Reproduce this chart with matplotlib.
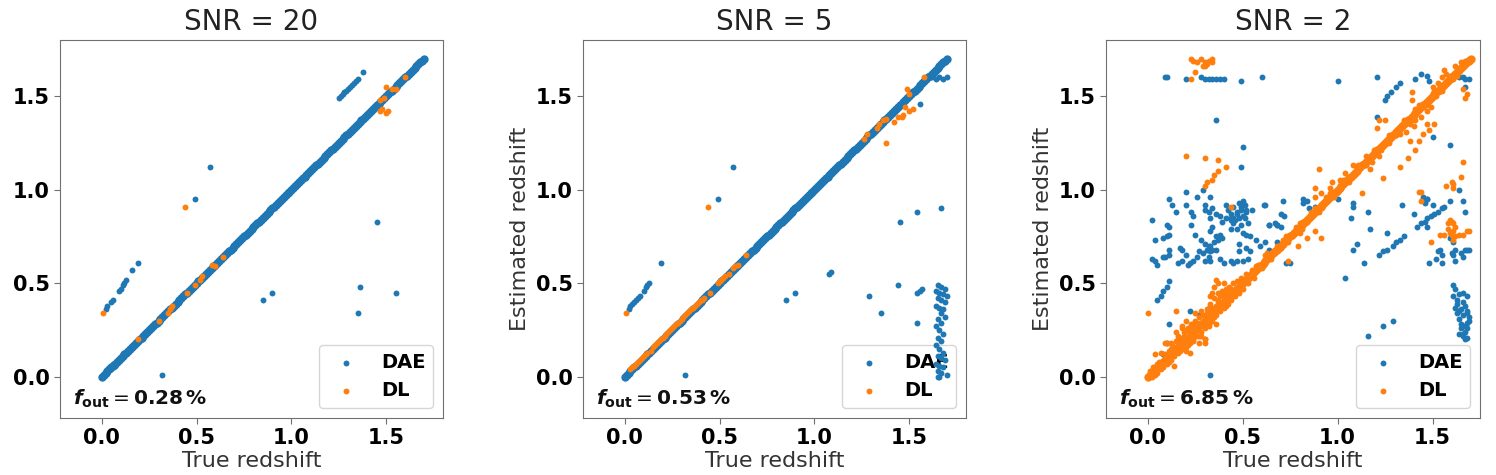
import matplotlib
matplotlib.use("Agg")
import matplotlib.pyplot as plt

# ---------------- data ----------------
snr_values = [20, 5, 2]
f_out_values = ["0.28", "0.53", "6.85"]
tick_values = [0.0, 0.5, 1.0, 1.5]
tick_labels = ["0.0", "0.5", "1.0", "1.5"]

# points lying on the 1:1 relation (true = estimated)
diag_z = [0.00, 0.01, 0.02, 0.03, 0.04, 0.05, 0.06, 0.07, 0.08, 0.09,
          0.10, 0.11, 0.12, 0.13, 0.14, 0.15, 0.16, 0.17, 0.18, 0.19,
          0.20, 0.21, 0.22, 0.23, 0.24, 0.25, 0.26, 0.27, 0.28, 0.29,
          0.30, 0.31, 0.32, 0.33, 0.34, 0.35, 0.36, 0.37, 0.38, 0.39,
          0.40, 0.41, 0.42, 0.43, 0.44, 0.45, 0.46, 0.47, 0.48, 0.49,
          0.50, 0.51, 0.52, 0.53, 0.54, 0.55, 0.56, 0.57, 0.58, 0.59,
          0.60, 0.61, 0.62, 0.63, 0.64, 0.65, 0.66, 0.67, 0.68, 0.69,
          0.70, 0.71, 0.72, 0.73, 0.74, 0.75, 0.76, 0.77, 0.78, 0.79,
          0.80, 0.81, 0.82, 0.83, 0.84, 0.85, 0.86, 0.87, 0.88, 0.89,
          0.90, 0.91, 0.92, 0.93, 0.94, 0.95, 0.96, 0.97, 0.98, 0.99,
          1.00, 1.01, 1.02, 1.03, 1.04, 1.05, 1.06, 1.07, 1.08, 1.09,
          1.10, 1.11, 1.12, 1.13, 1.14, 1.15, 1.16, 1.17, 1.18, 1.19,
          1.20, 1.21, 1.22, 1.23, 1.24, 1.25, 1.26, 1.27, 1.28, 1.29,
          1.30, 1.31, 1.32, 1.33, 1.34, 1.35, 1.36, 1.37, 1.38, 1.39,
          1.40, 1.41, 1.42, 1.43, 1.44, 1.45, 1.46, 1.47, 1.48, 1.49,
          1.50, 1.51, 1.52, 1.53, 1.54, 1.55, 1.56, 1.57, 1.58, 1.59,
          1.60, 1.61, 1.62, 1.63, 1.64, 1.65, 1.66, 1.67, 1.68, 1.69,
          1.70]

# SNR = 20
p1_dae_x = [0.02, 0.03, 0.05, 0.06, 0.09, 0.10, 0.11, 0.12, 0.13, 0.16, 0.19,
            0.57, 0.49, 1.45, 1.36, 1.55, 1.35, 0.85, 0.90, 0.32,
            1.25, 1.26, 1.27, 1.28, 1.29, 1.30, 1.31, 1.32, 1.33, 1.34, 1.35, 1.38,
            0.05, 0.06, 0.07, 0.08]
p1_dae_y = [0.36, 0.38, 0.40, 0.41, 0.46, 0.47, 0.49, 0.50, 0.52, 0.57, 0.61,
            1.12, 0.95, 0.83, 0.48, 0.45, 0.34, 0.41, 0.45, 0.01,
            1.49, 1.50, 1.51, 1.52, 1.53, 1.54, 1.55, 1.56, 1.57, 1.58, 1.59, 1.63,
            0.04, 0.07, 0.06, 0.08]
p1_dl_x = [0.005, 0.44, 0.19, 0.30, 0.35, 0.36, 0.37, 0.45, 0.49, 0.52, 0.53,
           0.58, 0.60, 0.64,
           1.47, 1.49, 1.50, 1.53, 1.55, 1.60, 1.47, 1.48, 1.50, 1.51]
p1_dl_y = [0.34, 0.91, 0.20, 0.30, 0.34, 0.36, 0.38, 0.45, 0.49, 0.52, 0.54,
           0.60, 0.59, 0.64,
           1.48, 1.49, 1.55, 1.54, 1.54, 1.60, 1.42, 1.43, 1.41, 1.42]

# SNR = 5
p2_dae_x = [0.02, 0.03, 0.04, 0.05, 0.06, 0.07, 0.08, 0.10, 0.11, 0.12, 0.13,
            0.19, 0.57, 0.49, 0.32, 0.85, 0.90, 1.08, 1.09, 1.29, 1.35, 1.44,
            1.45, 1.54, 1.67, 1.54, 1.54, 1.56, 1.57, 1.56,
            1.62, 1.64, 1.66, 1.68, 1.70,
            1.65, 1.67, 1.69, 1.64, 1.66, 1.68, 1.70, 1.65, 1.67, 1.69, 1.64,
            1.66, 1.68, 1.67, 1.69, 1.65, 1.67, 1.64, 1.66, 1.68, 1.65, 1.67,
            1.64, 1.66, 1.68, 1.65, 1.67, 1.69, 1.64, 1.66, 1.68, 1.65, 1.67,
            1.65, 1.70, 1.66]
p2_dae_y = [0.36, 0.38, 0.39, 0.40, 0.41, 0.42, 0.43, 0.46, 0.48, 0.49, 0.50,
            0.61, 1.12, 0.95, 0.01, 0.41, 0.45, 0.55, 0.56, 0.43, 0.34, 0.49,
            0.83, 0.88, 0.90, 0.29, 0.45, 0.46, 0.47, 1.46,
            1.60, 1.59, 1.60, 1.59, 1.60,
            0.49, 0.48, 0.47, 0.46, 0.45, 0.44, 0.43, 0.42, 0.41, 0.40, 0.38,
            0.37, 0.36, 0.34, 0.32, 0.31, 0.29, 0.27, 0.25, 0.23, 0.21, 0.19,
            0.17, 0.15, 0.13, 0.11, 0.10, 0.09, 0.07, 0.06, 0.05, 0.03, 0.02,
            0.00, 0.01, 0.00]
p2_dl_x = [0.005, 0.44,
           0.03, 0.04, 0.05, 0.06, 0.07, 0.08, 0.09, 0.10, 0.11, 0.12, 0.14,
           0.15, 0.16, 0.17, 0.18, 0.19, 0.20, 0.21, 0.22, 0.23, 0.24, 0.25,
           0.26, 0.27, 0.28, 0.29, 0.30, 0.31, 0.32, 0.33, 0.34, 0.35, 0.36,
           0.37, 0.38, 0.39, 0.40, 0.41, 0.42, 0.45, 0.49, 0.50, 0.51, 0.52,
           0.53, 0.55, 0.57, 0.58, 0.60, 0.64,
           1.26, 1.28, 1.33, 1.34, 1.36, 1.38, 1.38, 1.42, 1.44, 1.46, 1.47,
           1.48, 1.50, 1.52, 1.49, 1.50, 1.58]
p2_dl_y = [0.34, 0.91,
           0.04, 0.05, 0.06, 0.07, 0.08, 0.09, 0.10, 0.11, 0.12, 0.13, 0.14,
           0.16, 0.17, 0.18, 0.19, 0.20, 0.21, 0.22, 0.23, 0.24, 0.25, 0.26,
           0.27, 0.28, 0.29, 0.30, 0.31, 0.32, 0.33, 0.34, 0.35, 0.36, 0.37,
           0.38, 0.39, 0.40, 0.41, 0.41, 0.42, 0.45, 0.50, 0.51, 0.52, 0.53,
           0.54, 0.55, 0.58, 0.59, 0.60, 0.65,
           1.27, 1.30, 1.33, 1.35, 1.37, 1.38, 1.25, 1.36, 1.39, 1.39, 1.40,
           1.44, 1.42, 1.43, 1.54, 1.51, 1.60]

# SNR = 2
p3_dae_x = [0.09, 0.10, 0.20, 0.28, 0.30, 0.32, 0.34, 0.36, 0.38, 0.40, 0.49,
            0.60, 1.00, 1.21, 1.44, 1.47, 1.48, 1.41, 1.33, 1.31, 1.28, 1.26,
            1.25, 1.64, 1.66, 1.67, 1.69, 1.67,
            0.36, 0.50, 0.49, 1.21, 1.50, 1.59,
            0.29, 0.20, 0.11, 0.13, 0.20, 0.15, 0.02, 0.10, 0.23, 0.24, 0.26,
            0.33, 0.41, 0.30, 0.30, 0.32, 0.34, 0.36, 0.33, 0.38, 0.41, 0.44,
            0.45, 0.47, 0.49, 0.50, 0.51, 0.52, 0.50, 0.48, 0.44, 0.39, 0.62,
            0.71, 0.70, 0.72, 0.64, 0.68, 0.70, 0.23, 0.34,
            0.04, 0.11, 0.11, 0.10, 0.25, 0.28, 0.33,
            0.30, 0.32, 0.33, 0.35, 0.37, 0.36, 0.34, 0.33, 0.31, 0.29, 0.36,
            0.38, 0.39, 0.32, 0.33, 0.30, 0.27, 0.26, 0.24, 0.22, 0.20, 0.18,
            0.17, 0.18, 0.16, 0.21,
            0.04, 0.08, 0.11, 0.02, 0.11, 0.05,
            0.42, 0.44, 0.46, 0.47, 0.45, 0.48, 0.50, 0.49, 0.52, 0.51, 0.53,
            0.49, 0.47, 0.50, 0.52, 0.54, 0.44, 0.45,
            0.48, 0.48, 0.47, 0.50, 0.53, 0.45, 0.54, 0.52,
            0.57, 0.59, 0.61, 0.62, 0.64, 0.67, 0.68, 0.64, 0.68, 0.55,
            0.75, 0.44, 0.40, 0.38,
            0.82, 0.84, 0.82, 0.85, 0.88, 1.00, 1.08, 1.08, 1.07, 1.16, 1.34,
            1.40, 1.45, 1.47, 1.46,
            0.08, 0.09, 0.11, 0.10, 0.08, 0.07, 0.05, 0.22, 0.27, 0.11, 0.10,
            0.08, 0.33, 0.73,
            1.17, 1.26, 1.10, 1.08, 1.14, 1.04,
            1.22, 1.24, 1.26, 1.29, 1.31, 1.33, 1.35,
            1.42, 1.44, 1.46, 1.47, 1.49, 1.51, 1.53, 1.55, 1.56, 1.50, 1.47,
            1.45,
            1.59, 1.64, 1.66, 1.67, 1.59, 1.61,
            1.54, 1.52, 1.55, 1.48, 1.61, 1.62, 1.65, 1.67, 1.68, 1.66, 1.53,
            1.55, 1.60, 1.62, 1.69, 1.47,
            1.61, 1.62, 1.61, 1.64, 1.66, 1.68, 1.63, 1.66, 1.62, 1.65, 1.68,
            1.68, 1.63, 1.66, 1.69, 1.64, 1.68, 1.66, 1.65, 1.67, 1.66, 1.68,
            1.64, 1.63, 1.67, 1.69, 1.65, 1.68, 1.66, 1.67, 1.64,
            1.16, 1.24, 1.29]
p3_dae_y = [1.60, 1.60, 1.59, 1.60, 1.59, 1.59, 1.59, 1.59, 1.59, 1.59, 1.58,
            1.60, 1.58, 1.60, 1.62, 1.61, 1.58, 1.59, 1.57, 1.55, 1.52, 1.50,
            1.48, 1.60, 1.60, 1.59, 1.59, 1.55,
            1.37, 1.23, 1.12, 1.39, 1.28, 1.24,
            1.00, 0.99, 0.95, 0.92, 0.92, 0.88, 0.84, 0.81, 0.88, 0.86, 0.96,
            0.96, 0.92, 0.92, 0.89, 0.88, 0.90, 0.87, 0.85, 0.86, 0.85, 0.87,
            0.85, 0.88, 0.91, 0.93, 0.92, 0.89, 0.86, 0.85, 0.84, 0.83, 0.92,
            0.94, 0.87, 0.86, 0.81, 0.81, 0.80, 0.81, 0.80,
            0.73, 0.80, 0.76, 0.75, 0.76, 0.73, 0.78,
            0.71, 0.70, 0.70, 0.72, 0.73, 0.68, 0.68, 0.67, 0.68, 0.66, 0.75,
            0.76, 0.74, 0.64, 0.62, 0.62, 0.67, 0.64, 0.62, 0.61, 0.65, 0.68,
            0.69, 0.62, 0.61, 0.60,
            0.62, 0.64, 0.65, 0.63, 0.68, 0.60,
            0.89, 0.85, 0.84, 0.87, 0.91, 0.93, 0.94, 0.89, 0.88, 0.85, 0.82,
            0.81, 0.79, 0.77, 0.76, 0.75, 0.79, 0.82,
            0.71, 0.67, 0.62, 0.62, 0.63, 0.61, 0.67, 0.69,
            0.73, 0.70, 0.92, 0.72, 0.81, 0.82, 0.81, 0.68, 0.72, 0.89,
            0.61, 0.62, 0.61, 0.63,
            0.95, 0.94, 0.93, 0.90, 0.91, 0.95, 0.93, 0.91, 0.85, 0.88, 0.92,
            0.87, 0.95, 0.95, 0.93,
            0.74, 0.64, 0.51, 0.48, 0.46, 0.43, 0.41, 0.35, 0.33, 0.28, 0.18,
            0.12, 0.01, 0.61,
            0.79, 0.77, 0.71, 0.68, 0.61, 0.53,
            0.65, 0.67, 0.68, 0.70, 0.72, 0.73, 0.75,
            0.80, 0.82, 0.83, 0.85, 0.86, 0.87, 0.88, 0.90, 0.91, 0.92, 0.95,
            0.96,
            0.94, 1.00, 0.94, 0.88, 0.74, 0.72,
            0.68, 0.63, 0.61, 0.61, 0.65, 0.62, 0.66, 0.68, 0.68, 0.64, 0.67,
            0.65, 0.66, 0.68, 0.68, 0.80,
            0.49, 0.47, 0.43, 0.44, 0.45, 0.43, 0.41, 0.40, 0.37, 0.36, 0.35,
            0.34, 0.34, 0.33, 0.32, 0.31, 0.29, 0.27, 0.26, 0.24, 0.22, 0.21,
            0.23, 0.39, 0.38, 0.30, 0.28, 0.26, 0.23, 0.20, 0.35,
            0.22, 0.27, 0.30]
p3_dl_x = [0.23, 0.24, 0.26, 0.28, 0.30, 0.31, 0.32, 0.34, 0.34, 0.30, 0.29,
           0.25, 0.23,
           0.20, 0.30, 0.37, 0.41, 0.37, 0.35, 0.34, 0.31, 0.30, 0.44,
           0.90, 0.88, 0.97, 1.13, 1.24, 1.33, 1.37, 1.41, 1.38, 1.43, 1.21,
           1.25, 1.22, 1.39, 1.39, 1.51, 1.48, 1.45, 1.47, 1.56, 1.66, 1.68,
           1.67, 1.66, 1.65, 1.57, 1.60, 1.61, 1.61, 1.44, 1.44,
           0.80, 0.84, 0.91, 0.88, 0.79, 0.74,
           1.58, 1.60, 1.61, 1.62, 1.61, 1.59, 1.58, 1.60, 1.62, 1.64, 1.66,
           1.68, 1.69, 1.61, 1.59, 1.56, 1.54, 1.49, 1.43,
           1.47, 1.49, 1.47, 1.44, 1.41, 1.40, 1.36, 1.50, 1.53, 1.55, 1.57,
           1.59, 1.62, 1.65, 1.67, 1.68, 1.69, 1.64, 1.61, 1.57, 1.54, 1.52,
           1.41, 1.45, 1.38, 1.33, 1.27, 1.22, 1.17, 1.13, 1.10, 1.04, 1.01,
           0.96, 0.91, 0.88, 1.08, 1.15, 1.18, 1.03, 1.17,
           0.00, 0.36, 0.37, 0.34, 0.25, 0.15, 0.09, 0.12, 0.04, 0.30, 0.30,
           0.25, 0.18, 0.15, 0.37, 0.38, 0.32, 0.22,
           0.02, 0.03, 0.05, 0.06, 0.08, 0.09, 0.10, 0.11, 0.12, 0.13, 0.14,
           0.15, 0.16, 0.17, 0.18, 0.19, 0.20, 0.21, 0.22, 0.23, 0.24, 0.25,
           0.26, 0.27, 0.28, 0.29, 0.30, 0.31, 0.32, 0.33, 0.34, 0.35, 0.36,
           0.37, 0.38, 0.39, 0.40, 0.41, 0.42, 0.43, 0.44, 0.45, 0.46, 0.47,
           0.48, 0.49, 0.50, 0.52, 0.53, 0.55, 0.56, 0.58, 0.60, 0.62, 0.65,
           0.68, 0.70, 0.73, 0.76, 0.80, 0.84, 0.88, 0.92, 0.96, 1.00,
           0.10, 0.14, 0.20, 0.22, 0.28, 0.30, 0.35, 0.36, 0.40, 0.33, 0.27,
           0.18, 0.07,
           0.57, 0.61, 0.63, 0.67, 0.71, 0.74, 0.78, 0.81, 0.86, 0.90, 0.94,
           0.98, 1.02, 1.06, 1.11, 1.15, 1.19, 1.23, 1.27, 1.31, 1.35, 1.39,
           1.43, 1.47, 1.51, 1.55, 1.59, 1.63, 1.67,
           0.01, 0.04, 0.05, 0.07, 0.09, 0.11, 0.12, 0.14, 0.16, 0.17, 0.19,
           0.20, 0.21, 0.23, 0.24, 0.26, 0.27, 0.29, 0.31, 0.32, 0.34, 0.35,
           0.37, 0.38, 0.40, 0.41, 0.43, 0.45, 0.47, 0.49, 0.51, 0.53, 0.16,
           0.20, 0.24, 0.28, 0.32, 0.36, 0.40, 0.44]
p3_dl_y = [1.70, 1.69, 1.68, 1.70, 1.68, 1.67, 1.69, 1.70, 1.68, 1.66, 1.66,
           1.63, 1.59,
           1.18, 1.17, 1.16, 1.12, 1.10, 1.08, 1.05, 1.04, 1.02, 0.91,
           1.11, 1.01, 1.04, 0.98, 1.06, 1.12, 1.17, 1.21, 1.26, 1.26, 1.33,
           1.37, 1.37, 1.52, 1.48, 1.35, 1.32, 1.30, 1.35, 1.64, 1.54, 1.51,
           1.49, 1.15, 1.07, 1.02, 1.04, 1.03, 1.01, 0.99, 0.94,
           0.77, 0.74, 0.74, 0.78, 0.70, 0.62,
           0.82, 0.83, 0.82, 0.80, 0.78, 0.77, 0.79, 0.76, 0.75, 0.76, 0.76,
           0.78, 0.78, 0.73, 0.84, 0.76, 0.76, 0.72, 0.99,
           1.46, 1.44, 1.42, 1.39, 1.37, 1.34, 1.31, 1.55, 1.57, 1.60, 1.62,
           1.60, 1.66, 1.68, 1.68, 1.69, 1.70, 1.63, 1.59, 1.57, 1.53, 1.50,
           1.43, 1.44, 1.35, 1.30, 1.25, 1.18, 1.16, 1.13, 1.10, 1.09, 1.05,
           1.01, 0.98, 0.96, 1.13, 1.18, 1.15, 1.05, 1.11,
           0.34, 0.52, 0.50, 0.45, 0.34, 0.35, 0.18, 0.18, 0.12, 0.18, 0.20,
           0.26, 0.27, 0.24, 0.40, 0.43, 0.37, 0.20,
           0.00, 0.05, 0.02, 0.08, 0.05, 0.12, 0.07, 0.14, 0.09, 0.17, 0.11,
           0.19, 0.13, 0.21, 0.15, 0.24, 0.16, 0.26, 0.18, 0.28, 0.20, 0.30,
           0.22, 0.32, 0.24, 0.33, 0.26, 0.36, 0.28, 0.39, 0.30, 0.42, 0.33,
           0.45, 0.35, 0.46, 0.37, 0.47, 0.39, 0.48, 0.41, 0.50, 0.43, 0.51,
           0.45, 0.53, 0.47, 0.55, 0.50, 0.57, 0.53, 0.60, 0.58, 0.65, 0.63,
           0.70, 0.69, 0.75, 0.75, 0.82, 0.83, 0.90, 0.91, 0.98, 0.99,
           0.18, 0.06, 0.30, 0.13, 0.35, 0.20, 0.48, 0.28, 0.50, 0.43, 0.18,
           0.26, 0.13,
           0.59, 0.60, 0.66, 0.66, 0.73, 0.72, 0.80, 0.79, 0.88, 0.88, 0.96,
           0.96, 1.04, 1.04, 1.13, 1.13, 1.21, 1.21, 1.29, 1.29, 1.37, 1.37,
           1.45, 1.45, 1.53, 1.53, 1.61, 1.61, 1.69,
           0.03, 0.01, 0.07, 0.04, 0.10, 0.08, 0.15, 0.12, 0.20, 0.14, 0.22,
           0.25, 0.17, 0.27, 0.19, 0.29, 0.22, 0.30, 0.34, 0.27, 0.37, 0.32,
           0.41, 0.36, 0.44, 0.38, 0.46, 0.43, 0.48, 0.47, 0.52, 0.52, 0.22,
           0.14, 0.28, 0.22, 0.34, 0.38, 0.43, 0.47]

panels = [
    (p1_dae_x, p1_dae_y, p1_dl_x, p1_dl_y, "DAE"),
    (p2_dae_x, p2_dae_y, p2_dl_x, p2_dl_y, "DAE"),
    (p3_dae_x, p3_dae_y, p3_dl_x, p3_dl_y, "DL"),
]

# ---------------- layout ----------------
W, H = 1496, 475
fig = plt.figure(figsize=(W / 100, H / 100), dpi=100)
boxes_px = [(60, 40, 383, 378), (583, 40, 383, 378), (1106, 40, 374, 378)]
xlims = [(-0.22, 1.80), (-0.22, 1.80), (-0.22, 1.75)]

blue = "#1f77b4"
orange = "#ff7f0e"
frame_col = "#707070"
pt = 18
diag_pt = 36

for i, (l, t, w, h) in enumerate(boxes_px):
    ax = fig.add_axes([l / W, 1 - (t + h) / H, w / W, h / H])
    dae_x, dae_y, dl_x, dl_y, diag_owner = panels[i]
    if diag_owner == "DAE":
        ax.scatter(diag_z, diag_z, s=diag_pt, color=blue, linewidths=0)
        ax.scatter(dae_x, dae_y, s=pt, color=blue, linewidths=0, label="DAE")
        ax.scatter(dl_x, dl_y, s=pt, color=orange, linewidths=0, label="DL")
    else:
        ax.scatter(dae_x, dae_y, s=pt, color=blue, linewidths=0, label="DAE")
        ax.scatter(diag_z, diag_z, s=diag_pt, color=orange, linewidths=0)
        ax.scatter(dl_x, dl_y, s=pt, color=orange, linewidths=0, label="DL")

    ax.set_xlim(*xlims[i])
    ax.set_ylim(-0.22, 1.80)
    ax.set_xticks(tick_values)
    ax.set_yticks(tick_values)
    ax.set_xticklabels(tick_labels, fontsize=15, fontweight="bold")
    ax.set_yticklabels(tick_labels, fontsize=15, fontweight="bold")
    ax.tick_params(colors=frame_col, labelcolor="black", length=4)
    for sp in ax.spines.values():
        sp.set_color(frame_col)

    ax.set_title(f"SNR = {snr_values[i]}", fontsize=20, color="#222222", pad=7)
    ax.set_xlabel("True redshift", fontsize=16, color="#333333", labelpad=2)
    if i > 0:
        ax.set_ylabel("Estimated redshift", fontsize=16, color="#333333",
                      labelpad=4)

    leg = ax.legend(loc="lower right", prop={"weight": "bold", "size": 14},
                    scatterpoints=1)
    leg.set_zorder(0.5)

    ax.text(0.035, 0.035,
            r"$\mathbfit{f}_{\mathbf{out}} = \mathbf{" + f_out_values[i] + r"\,\%}$",
            transform=ax.transAxes, ha="left", va="baseline",
            fontsize=14.5, color="#111111")

fig.savefig("out.png", dpi=100)
